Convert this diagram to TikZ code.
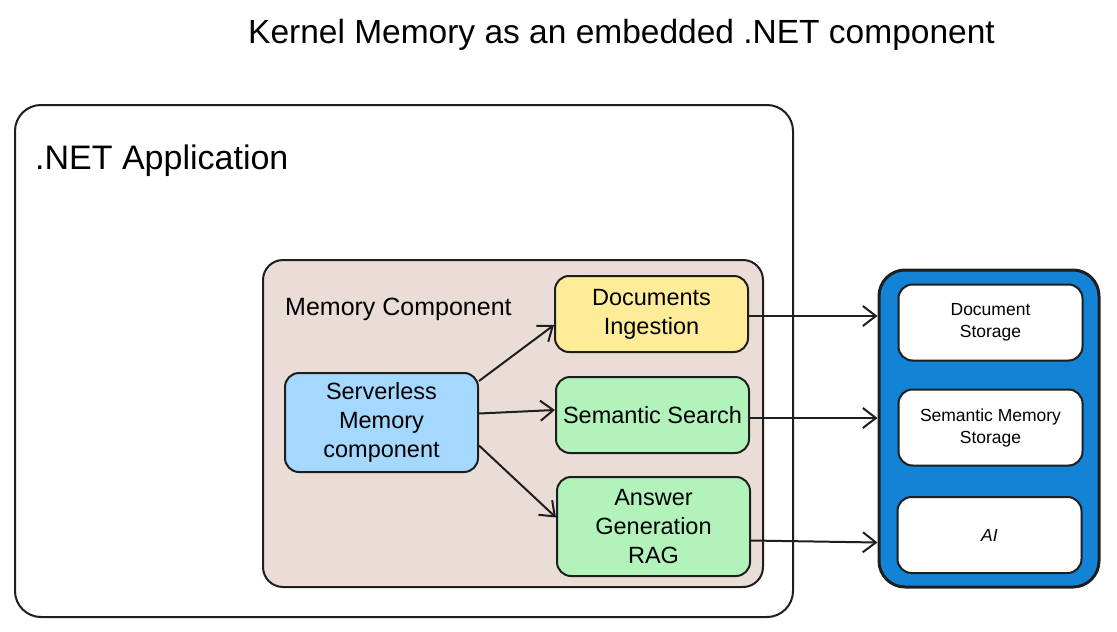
\documentclass[tikz,border=0pt]{standalone}
\usepackage{fontspec}
\setmainfont{Liberation Sans}
\usetikzlibrary{arrows.meta}
\definecolor{appfill}{HTML}{FFFFFF}
\definecolor{memfill}{HTML}{EADDD7}
\definecolor{bluefill}{HTML}{A5D8FF}
\definecolor{yellowfill}{HTML}{FFEC99}
\definecolor{greenfill}{HTML}{B2F2BB}
\definecolor{extfill}{HTML}{1283D5}
\definecolor{ink}{HTML}{1E1E1E}
\tikzset{
  box/.style={draw=ink, line width=2pt, rounded corners=14pt, align=center,
    font=\fontsize{23.5}{29}\selectfont, inner sep=0pt},
  extbox/.style={draw=ink, line width=2pt, rounded corners=14pt, align=center, fill=white,
    font=\fontsize{17.5}{22}\selectfont, inner sep=0pt, minimum width=184pt, minimum height=76pt},
  arr/.style={draw=ink, line width=2pt, -{Straight Barb[length=13pt,width=20pt,line width=2pt]}},
  lbl/.style={anchor=base west, inner sep=0pt}
}
\begin{document}
\begin{tikzpicture}[x=1pt,y=-1pt]
\useasboundingbox (0,0) rectangle (1117,632);
% title
\node[inner sep=0pt, font=\fontsize{33.5}{38}\selectfont] (title) at (621.5,35) {Kernel Memory as an embedded .NET component};
% outer application box
\draw[draw=ink, line width=2pt, fill=appfill, rounded corners=26pt] (15,105) rectangle (793,617);
\node[lbl, font=\fontsize{34}{38}\selectfont] (applbl) at (35,169) {.NET Application};
% memory component box
\draw[draw=ink, line width=2pt, fill=memfill, rounded corners=20pt] (263,260) rectangle (763,587);
\node[lbl, font=\fontsize{25}{30}\selectfont] (memlbl) at (285,315) {Memory Component};
% inner nodes
\node[box, fill=bluefill, minimum width=193pt, minimum height=99pt] (sm) at (381.5,422.5) {Serverless\\Memory\\component};
\node[box, fill=yellowfill, minimum width=193pt, minimum height=76pt] (di) at (651.5,314) {Documents\\Ingestion};
\node[box, fill=greenfill, minimum width=193pt, minimum height=76pt] (ss) at (652.5,415) {Semantic Search};
\node[box, fill=greenfill, minimum width=193pt, minimum height=99pt] (ag) at (653.5,526.5) {Answer\\Generation\\RAG};
% external blue box
\node[draw=ink, line width=3pt, fill=extfill, rounded corners=26pt, minimum width=220pt, minimum height=317pt, inner sep=0pt] (ext) at (989,428.5) {};
\node[extbox] (ds) at (990.5,322.5) {Document\\Storage};
\node[extbox] (sms) at (990.5,427.5) {Semantic Memory\\Storage};
\node[extbox] (ai) at (989.5,535) {\itshape AI};
% connectors
\draw[arr] ([yshift=-9pt]sm.north east) -- ([yshift=-11pt]di.west);
\draw[arr] ([yshift=9pt]sm.east) -- ([yshift=5pt]ss.west);
\draw[arr] ([yshift=-23pt]sm.east) -- ([yshift=9pt]ag.west);
\draw[arr] ([yshift=-2pt]di.east) -- ([yshift=-2pt]di.east -| ext.west);
\draw[arr] ([yshift=-3pt]ss.east) -- ([yshift=-3pt]ss.east -| ext.west);
\draw[arr] ([yshift=-14pt]ag.east) -- ([yshift=-16pt]ag.east -| ext.west);
\end{tikzpicture}
\end{document}
